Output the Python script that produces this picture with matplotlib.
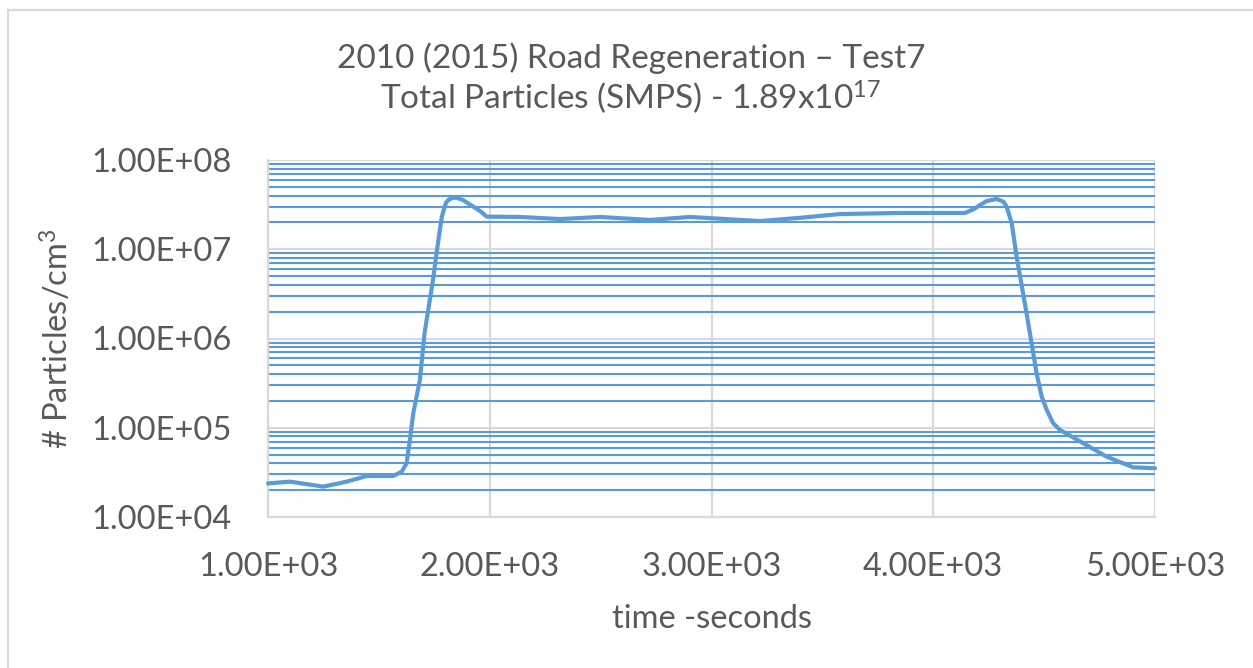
import matplotlib
matplotlib.use("Agg")
import matplotlib.pyplot as plt
from matplotlib.ticker import LogLocator, FixedLocator, FuncFormatter, NullFormatter
from matplotlib.lines import Line2D

# Total particle concentration during the road regeneration run
time_s = [1000, 1100, 1249, 1355, 1445, 1565, 1603, 1625, 1640, 1655,
          1685, 1706, 1744, 1762, 1784, 1802, 1813, 1830, 1851, 1879,
          1926, 1960, 1986, 2136, 2317, 2497, 2723, 2903, 3219, 3399,
          3579, 3850, 4143, 4181, 4211, 4241, 4286, 4316, 4331, 4354,
          4376, 4421, 4466, 4489, 4512, 4541, 4572, 4677, 4782, 4902, 5000]
particles_cm3 = [2.38e4, 2.49e4, 2.19e4, 2.49e4, 2.88e4, 2.88e4, 3.22e4, 4.00e4, 7.30e4, 1.45e5,
                 3.43e5, 1.15e6, 4.52e6, 9.80e6, 2.32e7, 3.30e7, 3.56e7, 3.76e7, 3.78e7, 3.56e7,
                 3.00e7, 2.64e7, 2.32e7, 2.30e7, 2.18e7, 2.30e7, 2.13e7, 2.30e7, 2.07e7, 2.25e7,
                 2.48e7, 2.55e7, 2.55e7, 2.80e7, 3.13e7, 3.47e7, 3.66e7, 3.41e7, 3.00e7, 1.95e7,
                 8.26e6, 1.91e6, 4.07e5, 2.23e5, 1.58e5, 1.12e5, 9.44e4, 6.70e4, 4.74e4, 3.60e4, 3.52e4]

x_ticks = [1000, 2000, 3000, 4000, 5000]
y_ticks = [1e4, 1e5, 1e6, 1e7, 1e8]

title_lines = ["2010 (2015) Road Regeneration \u2013 Test7",
               "Total Particles (SMPS) - 1.89x10$^{17}$"]
x_label = "time -seconds"
y_label = "# Particles/cm$^3$"

TEXT = "#595959"
BLUE = "#5B9BD5"
GRID = "#D9D9D9"

plt.rcParams["font.family"] = ["Lato", "DejaVu Sans"]
plt.rcParams["mathtext.fontset"] = "custom"
plt.rcParams["mathtext.rm"] = "Lato"
plt.rcParams["mathtext.it"] = "Lato"
plt.rcParams["mathtext.default"] = "regular"

fig = plt.figure(figsize=(12.53, 6.68), dpi=100)
ax = fig.add_axes([268 / 1253, 1 - 517 / 668, (1155 - 268) / 1253, (517 - 160) / 668])

ax.set_yscale("log")
ax.set_xlim(1000, 5000)
ax.set_ylim(1e4, 1e8)

ax.xaxis.set_major_locator(FixedLocator(x_ticks))
ax.yaxis.set_major_locator(FixedLocator(y_ticks))
ax.yaxis.set_minor_locator(LogLocator(base=10, subs=range(2, 10)))
ax.yaxis.set_minor_formatter(NullFormatter())
sci = FuncFormatter(lambda v, _: "{:.2E}".format(v))
ax.xaxis.set_major_formatter(sci)
ax.yaxis.set_major_formatter(sci)

ax.grid(axis="y", which="minor", color=BLUE, linewidth=1.5, zorder=1)
ax.grid(axis="y", which="major", color=GRID, linewidth=1.6, zorder=1)
ax.grid(axis="x", which="major", color=GRID, linewidth=1.6, zorder=1)
ax.set_axisbelow(True)

for side in ("top", "right"):
    ax.spines[side].set_visible(False)
for side in ("left", "bottom"):
    ax.spines[side].set_color(GRID)
    ax.spines[side].set_linewidth(1.6)

ax.tick_params(which="both", length=0, colors=TEXT, labelsize=23.5)
ax.tick_params(axis="x", pad=25)
ax.tick_params(axis="y", pad=26)

ax.plot(time_s, particles_cm3, color=BLUE, linewidth=3.0,
        solid_joinstyle="round", solid_capstyle="round", zorder=3, clip_on=False)

ax.set_xlabel(x_label, fontsize=23.5, color=TEXT, labelpad=16)
ax.set_ylabel(y_label, fontsize=23.5, color=TEXT, labelpad=12)

fig.text(631 / 1253, 1 - 58 / 668, title_lines[0], ha="center", va="center",
         fontsize=24, color=TEXT)
fig.text(631 / 1253, 1 - 97 / 668, title_lines[1], ha="center", va="center",
         fontsize=24, color=TEXT)

# outer chart frame (left and top edges)
fig.add_artist(Line2D([8 / 1253, 8 / 1253], [0, 1 - 10 / 668], transform=fig.transFigure,
                      color=GRID, linewidth=1.6))
fig.add_artist(Line2D([8 / 1253, 1], [1 - 10 / 668, 1 - 10 / 668], transform=fig.transFigure,
                      color=GRID, linewidth=1.6))

fig.savefig("out.png", dpi=100, facecolor="white")
